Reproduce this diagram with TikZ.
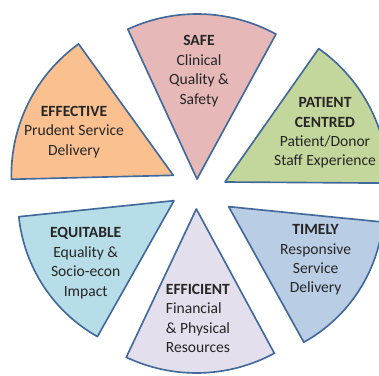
\documentclass[tikz,border=0pt]{standalone}
\usepackage{fontspec}
\setmainfont{Carlito}
\usepackage{tikz}
\definecolor{rimblue}{RGB}{65,105,155}
\definecolor{safepink}{RGB}{230,185,184}
\definecolor{effectorange}{RGB}{250,192,144}
\definecolor{patientgreen}{RGB}{195,214,155}
\definecolor{equitcyan}{RGB}{183,222,232}
\definecolor{efficlilac}{RGB}{228,223,236}
\definecolor{timelyblue}{RGB}{185,205,229}

\begin{document}
\begin{tikzpicture}[wedge/.style={draw=rimblue, line width=1.4pt, line join=round},
  caption/.style={align=center, text=black!85, font=\fontsize{13.3}{16.6}\selectfont}]
 \useasboundingbox (0,0) rectangle (11.37,11.25);
 \clip (0,0) rectangle (11.37,11.25);
 % six slices, each pulled away from the middle
 \draw[wedge, fill=safepink] (5.91,5.88) -- ++(61.4:4.95) arc[start angle=61.4, end angle=114.8, radius=4.95] -- cycle;
 \draw[wedge, fill=effectorange] (5.20,5.99) -- ++(125.8:4.86) arc[start angle=125.8, end angle=181.4, radius=4.86] -- cycle;
 \draw[wedge, fill=patientgreen] (6.75,5.79) -- ++(-0.4:4.89) arc[start angle=-0.4, end angle=54.9, radius=4.89] -- cycle;
 \draw[wedge, fill=equitcyan] (5.22,5.23) -- ++(185.9:4.68) arc[start angle=185.9, end angle=240.6, radius=4.68] -- cycle;
 \draw[wedge, fill=efficlilac] (5.89,4.98) -- ++(244.7:4.92) arc[start angle=244.7, end angle=298.4, radius=4.92] -- cycle;
 \draw[wedge, fill=timelyblue] (6.86,5.05) -- ++(299:4.65) arc[start angle=299, end angle=354.3, radius=4.65] -- cycle;
 % labels
 \node[caption] (safe) at (5.97,9.12){\textbf{SAFE}\\Clinical\\Quality \&\\Safety};
 \node[caption] (effective) at (2.22,7.29){\textbf{EFFECTIVE}\\Prudent Service\\Delivery};
 \node[caption] (patient) at (9.75,7.26){\textbf{PATIENT}\\\textbf{CENTRED}\\Patient/Donor\\Staff Experience};
 \node[caption] (equitable) at (2.57,3.36){\textbf{EQUITABLE}\\Equality \&\\Socio-econ\\Impact};
 \node[caption, align=left, anchor=west, inner sep=0pt] (efficient) at (4.97,1.70){\textbf{EFFICIENT}\\Financial\\\& Physical\\Resources};
 \node[caption] (timely) at (9.47,3.45){\textbf{TIMELY}\\Responsive\\Service\\Delivery};
\end{tikzpicture}
\end{document}
